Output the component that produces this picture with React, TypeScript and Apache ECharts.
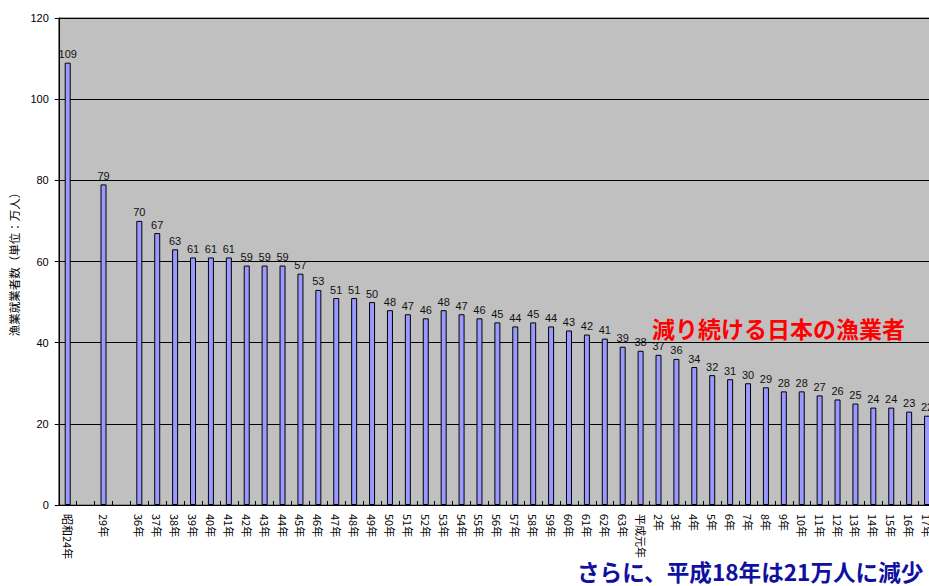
import React, { useEffect, useRef } from "react";
import * as echarts from "echarts";

const categories: string[] = [
  "昭和24年", "", "29年", "",
  "36年", "37年", "38年", "39年", "40年", "41年", "42年", "43年", "44年", "45年",
  "46年", "47年", "48年", "49年", "50年", "51年", "52年", "53年", "54年", "55年",
  "56年", "57年", "58年", "59年", "60年", "61年", "62年", "63年",
  "平成元年", "2年", "3年", "4年", "5年", "6年", "7年", "8年", "9年", "10年",
  "11年", "12年", "13年", "14年", "15年", "16年", "17年",
];

const workers: (number | null)[] = [
  109, null, 79, null,
  70, 67, 63, 61, 61, 61, 59, 59, 59, 57,
  53, 51, 51, 50, 48, 47, 46, 48, 47, 46,
  45, 44, 45, 44, 43, 42, 41, 39,
  38, 37, 36, 34, 32, 31, 30, 29, 28, 28,
  27, 26, 25, 24, 24, 23, 22,
];

const yTicks = { min: 0, max: 120, interval: 20 };
const yAxisTitle = "漁業就業者数（単位：万人）";
const headline = "減り続ける日本の漁業者";
const footnote = "さらに、平成18年は21万人に減少";

export default function App() {
  const ref = useRef<HTMLDivElement>(null);
  useEffect(() => {
    if (!ref.current) return;
    const chart = echarts.init(ref.current, undefined, { renderer: "svg" });
    const font = "'Noto Sans CJK JP', 'Liberation Sans', sans-serif";
    chart.setOption({
      animation: false,
      textStyle: { fontFamily: font },
      grid: {
        left: 54,
        top: 18,
        bottom: 81,
        right: 0,
        show: true,
        backgroundColor: "#c0c0c0",
        borderColor: "#555555",
        borderWidth: 1,
      },
      xAxis: {
        type: "category",
        data: categories,
        axisLine: { show: true, lineStyle: { color: "#000", width: 1 } },
        axisTick: { show: true, inside: true, length: 4, lineStyle: { color: "#000" } },
        axisLabel: {
          rotate: -90,
          interval: 0,
          fontSize: 11,
          color: "#000",
          margin: 9,
          fontFamily: font,
        },
      },
      yAxis: {
        type: "value",
        min: yTicks.min,
        max: yTicks.max,
        interval: yTicks.interval,
        name: yAxisTitle,
        nameLocation: "middle",
        nameGap: 31,
        nameTextStyle: { fontSize: 11.5, color: "#000", fontFamily: font },
        axisLine: { show: true, lineStyle: { color: "#000", width: 1 } },
        axisTick: { show: true, length: 4, lineStyle: { color: "#000" } },
        axisLabel: { fontSize: 11, color: "#000", margin: 10, fontFamily: "'Liberation Sans', sans-serif" },
        splitLine: { show: true, lineStyle: { color: "#000", width: 1 } },
      },
      series: [
        {
          type: "bar",
          data: workers,
          barWidth: 6,
          itemStyle: { color: "#9999ff", borderColor: "#000", borderWidth: 1 },
          label: {
            show: true,
            position: "top",
            distance: 3,
            fontSize: 11,
            color: "#111",
            fontFamily: "'Liberation Sans', sans-serif",
          },
        },
      ],
      graphic: [
        {
          type: "text",
          left: 652,
          top: 316,
          style: {
            text: headline,
            fill: "#ff0000",
            font: `bold 23px ${font}`,
          },
        },
        {
          type: "text",
          left: 577,
          top: 560,
          style: {
            text: footnote,
            fill: "#1010a0",
            font: `bold 22.6px ${font}`,
          },
        },
      ],
    });
    return () => chart.dispose();
  }, []);
  return (
    <div
      ref={ref}
      style={{ position: "fixed", left: 0, top: 0, width: "936px", height: "586px", background: "#fff" }}
    />
  );
}
